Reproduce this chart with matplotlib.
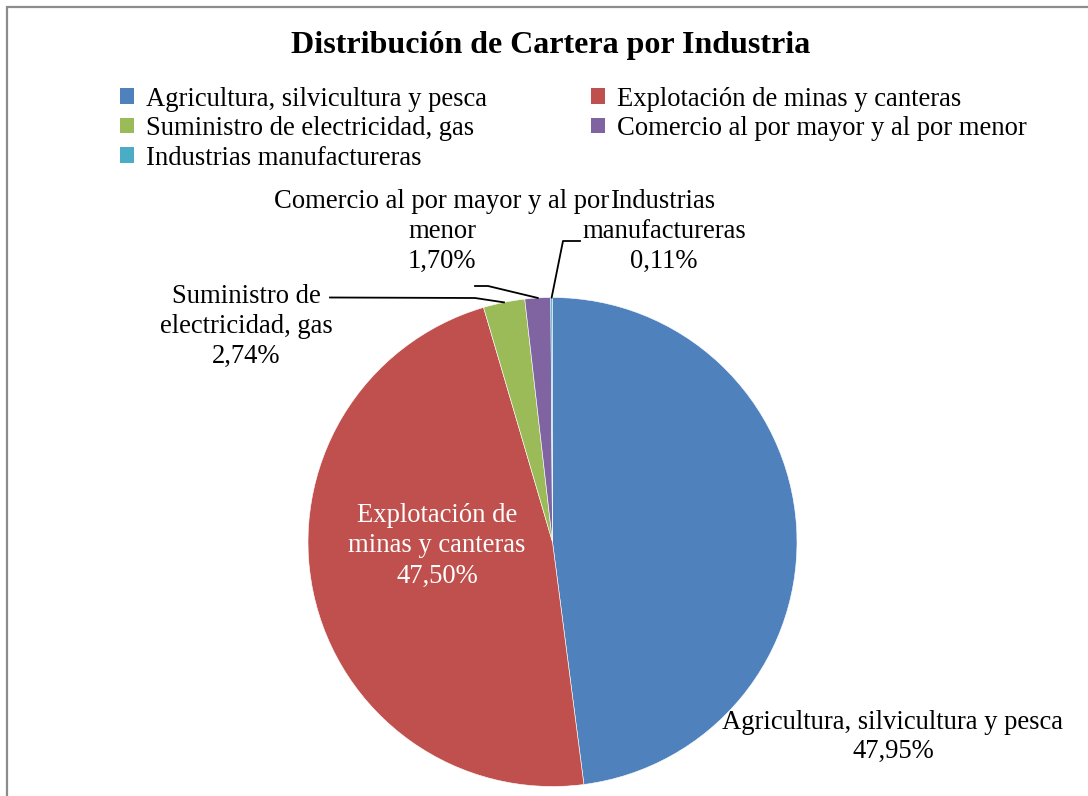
import numpy as np
import matplotlib
matplotlib.use("Agg")
import matplotlib.pyplot as plt
from matplotlib.patches import Patch

plt.rcParams['font.family'] = ['Liberation Serif', 'DejaVu Serif']

categories = ["Agricultura, silvicultura y pesca", "Explotación de minas y canteras",
              "Suministro de electricidad, gas", "Comercio al por mayor y al por menor",
              "Industrias manufactureras"]
values = [47.95, 47.50, 2.74, 1.70, 0.11]
value_labels = ["47,95%", "47,50%", "2,74%", "1,70%", "0,11%"]
colors = ["#4F81BD", "#C0504D", "#9BBB59", "#8064A2", "#4BACC6"]
title = "Distribución de Cartera por Industria"

W, H = 1088, 796
fig = plt.figure(figsize=(W / 100, H / 100), dpi=100)
ax = fig.add_axes([0, 0, 1, 1])
ax.set_xlim(0, W)
ax.set_ylim(0, H)
ax.axis('off')

def Y(py):
    return H - py

# border (left and top visible)
ax.plot([6.5, 6.5, W + 5], [Y(H + 5), Y(6.5), Y(6.5)], color="#8c8c8c", lw=1.6,
        solid_joinstyle='miter')

cx, cy, R = 552.5, 542, 244.5
wedges, _ = ax.pie(values, colors=colors, startangle=90, counterclock=False,
                   center=(cx, Y(cy)), radius=R, frame=True,
                   wedgeprops=dict(linewidth=0.4, edgecolor="white"))
ax.set_xlim(0, W)
ax.set_ylim(0, H)
ax.axis('off')

ax.text(W / 2 + 7, Y(45), title, ha='center', va='center', fontsize=23, fontweight='bold')

fs = 19.2
# legend (row-major order as in reference)
handles = [Patch(facecolor=c, edgecolor='none') for c in colors]
order = [0, 2, 4, 1, 3]
leg = fig.legend([handles[i] for i in order], [categories[i] for i in order],
                 ncol=2, loc='upper left', bbox_to_anchor=(120 / W, 1 - 86.5 / H),
                 frameon=False, fontsize=fs, handlelength=0.52, handleheight=0.52,
                 handletextpad=0.45, columnspacing=3.9, labelspacing=0.17,
                 borderaxespad=0, borderpad=0)

def mid_angle(i):
    tot = sum(values)
    start = 90 - 360 * sum(values[:i]) / tot
    end = start - 360 * values[i] / tot
    return np.deg2rad((start + end) / 2)

def edge_point(i):
    a = mid_angle(i)
    return cx + R * np.cos(a), Y(cy) + R * np.sin(a)

ls = 1.24
# Agricultura
ax.text(893, Y(737), f"{categories[0]}\n{value_labels[0]}", ha='center', va='center',
        fontsize=fs, linespacing=ls)
# Explotación (inside, white)
ax.text(437, Y(546), "Explotación de\nminas y canteras\n" + value_labels[1], ha='center',
        va='center', fontsize=fs, linespacing=1.3, color='white')
# Suministro
ax.text(246, Y(326.5), "Suministro de\nelectricidad, gas\n" + value_labels[2], ha='center',
        va='center', fontsize=fs, linespacing=ls)
ex, ey = edge_point(2)
ax.plot([330, 475, ex], [Y(297.5), Y(298), ey], color='black', lw=1.3)
# Comercio (one text per line, as wrapped in the reference)
ax.text(442, Y(202), "Comercio al por mayor y al por", ha='center', va='center', fontsize=fs)
ax.text(442, Y(232), "menor", ha='center', va='center', fontsize=fs)
ax.text(442, Y(261), value_labels[3], ha='center', va='center', fontsize=fs)
ex, ey = edge_point(3)
ax.plot([475, 488, ex], [Y(286), Y(286), ey], color='black', lw=1.3)
# Industrias
ax.text(664, Y(202), "Industrias", ha='center', va='center', fontsize=fs)
ax.text(664, Y(232), "manufactureras", ha='center', va='center', fontsize=fs)
ax.text(664, Y(261), value_labels[4], ha='center', va='center', fontsize=fs)
ex, ey = edge_point(4)
ax.plot([580, 563, ex], [Y(241), Y(241), ey], color='black', lw=1.3)

fig.savefig("out.png", dpi=100)
